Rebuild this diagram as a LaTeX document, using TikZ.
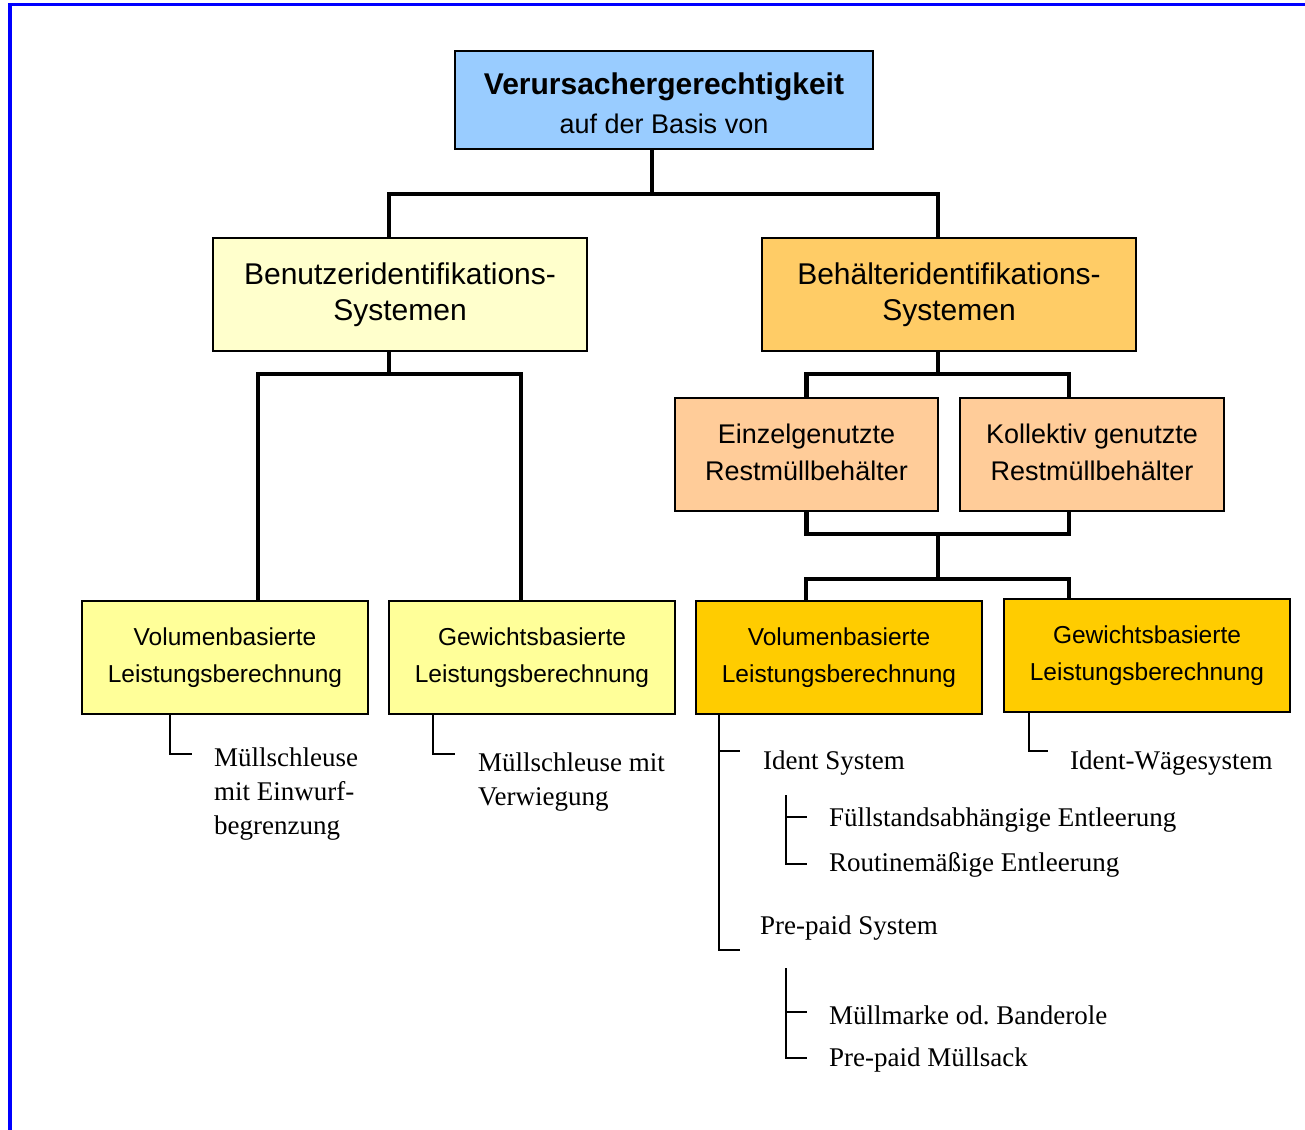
\documentclass[tikz,border=0pt]{standalone}
\usepackage{fontspec}
\setmainfont{Liberation Serif}
\setsansfont{Liberation Sans}
\usetikzlibrary{calc}

\definecolor{cTop}{HTML}{99CCFF}
\definecolor{cUser}{HTML}{FFFFCC}
\definecolor{cBin}{HTML}{FFCC66}
\definecolor{cBinSub}{HTML}{FFCC99}
\definecolor{cUserLeaf}{HTML}{FFFF99}
\definecolor{cBinLeaf}{HTML}{FFCC00}

\begin{document}
\frenchspacing
\begin{tikzpicture}[x=1pt,y=-1pt,
  box/.style={draw=black, line width=1.5pt, rectangle, inner sep=0pt, align=center},
  bigbox/.style={box, minimum width=374pt, minimum height=113pt,
    font=\sffamily\fontsize{30}{36}\selectfont},
  midbox/.style={box, minimum height=113pt,
    font=\sffamily\fontsize{27}{37}\selectfont},
  smallbox/.style={box, minimum width=286pt, minimum height=113pt,
    font=\sffamily\fontsize{24.5}{37}\selectfont},
  conn/.style={line width=4.5pt, line join=miter},
  tree/.style={line width=1.6pt, line join=miter},
  leaf/.style={anchor=west, inner sep=0pt, align=left,
    font=\rmfamily\fontsize{27}{34}\selectfont}
]
\useasboundingbox (0,0) rectangle (1305,1129);

% outer frame (top and left edges)
\draw[blue, line width=3.2pt] (10,1135) -- (10,4.4) -- (1310,4.4);

% boxes
\node[box, fill=cTop, minimum width=418pt, minimum height=98pt,
  font=\sffamily\fontsize{27}{39}\selectfont] (top) at (664,100)
  {{\fontsize{30}{39}\selectfont\bfseries\rule{0pt}{28pt}Verursachergerechtigkeit}\\auf der Basis von};

\node[bigbox, fill=cUser] (ben) at (400,294.5) {Benutzeridentifikations-\\Systemen};
\node[bigbox, fill=cBin] (beh) at (949,294.5) {Behälteridentifikations-\\Systemen};

\node[midbox, fill=cBinSub, minimum width=263pt] (ein) at (806.5,454.5)
  {Einzelgenutzte\\Restmüllbehälter\rule[-4pt]{0pt}{1pt}};
\node[midbox, fill=cBinSub, minimum width=264pt] (kol) at (1092,454.5)
  {Kollektiv genutzte\\Restmüllbehälter\rule[-4pt]{0pt}{1pt}};

\node[smallbox, fill=cUserLeaf] (vl) at (225,657.5) {Volumenbasierte\\Leistungsberechnung};
\node[smallbox, fill=cUserLeaf] (gl) at (532,657.5) {Gewichtsbasierte\\Leistungsberechnung};
\node[smallbox, fill=cBinLeaf] (vr) at (839,657.5) {Volumenbasierte\\Leistungsberechnung};
\node[smallbox, fill=cBinLeaf] (gr) at (1147,655.5) {Gewichtsbasierte\\Leistungsberechnung};

% tree connectors
\draw[conn] ([xshift=-12pt]top.south) -- ++(0,44) coordinate (j1);
\draw[conn] ([xshift=-11pt]ben.north) |- (j1) -| ([xshift=-11pt]beh.north);

\draw[conn] ([xshift=-11pt]ben.south) -- ++(0,22) coordinate (j2);
\draw[conn] ([xshift=33pt]vl.north) |- (j2) -| ([xshift=-11pt]gl.north);

\draw[conn] ([xshift=-11pt]beh.south) -- ++(0,22) coordinate (j3);
\draw[conn] (ein.north) |- (j3) -| ([xshift=-23pt]kol.north);

\draw[conn] (ein.south) -- ++(0,22) coordinate (b1) -| ([xshift=-23pt]kol.south);
\coordinate (j4) at ($(b1)+(131.5,0)$);
\draw[conn] (j4) -- ++(0,45) coordinate (j5);
\draw[conn] ([xshift=-33pt]vr.north) |- (j5) -| ([xshift=-78pt]gr.north);

% leaf texts
\node[leaf] (l1) at (214,794) {Müllschleuse\\mit Einwurf-\\begrenzung};
\node[leaf] (l2) at (478,782) {Müllschleuse mit\\Verwiegung};
\node[leaf] (l3) at (763,763) {Ident System};
\node[leaf] (l4) at (829,820) {Füllstandsabhängige Entleerung};
\node[leaf] (l5) at (829,865) {Routinemäßige Entleerung};
\node[leaf] (l6) at (760,928) {Pre-paid System};
\node[leaf] (l7) at (829,1015) {Müllmarke od. Banderole};
\node[leaf] (l8) at (829,1060) {Pre-paid Müllsack};
\node[leaf] (l9) at (1070,763) {Ident-Wägesystem};

% leaf brackets
\draw[tree] ([xshift=-55pt]vl.south) |- ++(22,39);
\draw[tree] ([xshift=-99pt]gl.south) |- ++(22,39);
\draw[tree] ([xshift=-118pt]gr.south) |- ++(19,38);

\draw[tree] ([xshift=-120pt]vr.south) |- ++(21,235);
\draw[tree] ([xshift=-120pt,yshift=-36pt]vr.south) -- ++(21,0);

\draw[tree] ([xshift=-43pt,yshift=25pt]l4.west) |- ([xshift=-22pt,yshift=1pt]l5.west);
\draw[tree] ([xshift=-43pt,yshift=3pt]l4.west) -- ([xshift=-22pt,yshift=3pt]l4.west);

\draw[tree] ([xshift=-43pt,yshift=47pt]l7.west) |- ([xshift=-22pt,yshift=2pt]l8.west);
\draw[tree] ([xshift=-43pt,yshift=3pt]l7.west) -- ([xshift=-22pt,yshift=3pt]l7.west);
\end{tikzpicture}
\end{document}
